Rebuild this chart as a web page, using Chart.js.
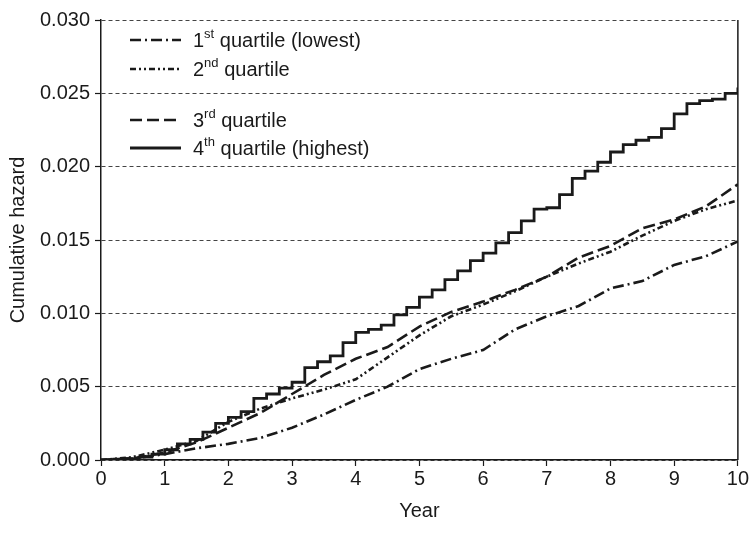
<!DOCTYPE html>
<html>
<head>
<meta charset="utf-8">
<script src="https://cdn.jsdelivr.net/npm/chart.js@4/dist/chart.umd.min.js"></script>
<style>
  html, body { margin: 0; padding: 0; background: #fff; }
  #wrap { width: 750px; height: 547px; position: relative; }
</style>
</head>
<body>
<div id="wrap"><canvas id="hazardChart"></canvas></div>
<script>
// ── DATA ─────────────────────────────
const halfYears = [0, 0.5, 1, 1.5, 2, 2.5, 3, 3.5, 4, 4.5, 5, 5.5, 6, 6.5, 7, 7.5, 8, 8.5, 9, 9.5, 10];
const q1Values = [0, 0.0001, 0.0004, 0.0008, 0.0011, 0.0015, 0.0022, 0.0031, 0.0041, 0.0050, 0.0062,
  0.0069, 0.0075, 0.0089, 0.0098, 0.0105, 0.0117, 0.0122, 0.0133, 0.0139, 0.0149];
const q2Values = [0, 0.0002, 0.0007, 0.0013, 0.0026, 0.0035, 0.0042, 0.0048, 0.0055, 0.0070, 0.0085,
  0.0098, 0.0106, 0.0115, 0.0125, 0.0134, 0.0142, 0.0153, 0.0163, 0.0171, 0.0177];
const q3Values = [0, 0.0001, 0.0005, 0.0012, 0.0022, 0.0032, 0.0045, 0.0058, 0.0069, 0.0077, 0.0091,
  0.0101, 0.0108, 0.0116, 0.0125, 0.0138, 0.0146, 0.0158, 0.0164, 0.0173, 0.0188];

// 4th quartile is a step function, read every 0.2 years
const stepYears = [0, 0.2, 0.4, 0.6, 0.8, 1.0, 1.2, 1.4, 1.6, 1.8, 2.0, 2.2, 2.4, 2.6, 2.8, 3.0, 3.2, 3.4, 3.6, 3.8,
  4.0, 4.2, 4.4, 4.6, 4.8, 5.0, 5.2, 5.4, 5.6, 5.8, 6.0, 6.2, 6.4, 6.6, 6.8, 7.0, 7.2, 7.4, 7.6, 7.8,
  8.0, 8.2, 8.4, 8.6, 8.8, 9.0, 9.2, 9.4, 9.6, 9.8, 10.0];
const q4Values = [0, 0.00005, 0.0001, 0.0002, 0.0004, 0.0007, 0.0011, 0.0014, 0.0019, 0.0025,
  0.0029, 0.0033, 0.0042, 0.0045, 0.0049, 0.0053, 0.0063, 0.0067, 0.0071, 0.0080,
  0.0087, 0.0089, 0.0092, 0.0099, 0.0104, 0.0111, 0.0116, 0.0123, 0.0129, 0.0136,
  0.0141, 0.0148, 0.0155, 0.0163, 0.0171, 0.0172, 0.0181, 0.0192, 0.0197, 0.0203,
  0.0210, 0.0215, 0.0218, 0.0220, 0.0226, 0.0236, 0.0243, 0.0245, 0.0246, 0.0250, 0.0254];

const legendNum = ["1", "2", "3", "4"];
const legendSup = ["st", "nd", "rd", "th"];
const legendRest = [" quartile (lowest)", " quartile", " quartile", " quartile (highest)"];

const yTicks = [0, 0.005, 0.010, 0.015, 0.020, 0.025, 0.030];
const xTicks = [0, 1, 2, 3, 4, 5, 6, 7, 8, 9, 10];

// ── HELPERS ─────────────────────────────
const FONT = "'Liberation Sans', Arial, Helvetica, sans-serif";
const INK = "#1a1a1a";

function toPoints(xs, ys) {
  return xs.map((x, i) => ({ x: x, y: ys[i] }));
}

// custom legend with superscripts + right frame line
const extrasPlugin = {
  id: "extras",
  afterDraw(chart) {
    const ctx = chart.ctx;
    const area = chart.chartArea;
    ctx.save();
    ctx.strokeStyle = INK;
    ctx.lineWidth = 1.5;
    ctx.beginPath();
    ctx.moveTo(area.right, area.top);
    ctx.lineTo(area.right, area.bottom);
    ctx.stroke();

    const rowsY = [40, 69, 120, 148];
    chart.data.datasets.forEach((ds, i) => {
      const y = rowsY[i];
      ctx.strokeStyle = INK;
      ctx.lineWidth = ds.borderWidth;
      ctx.setLineDash(ds.borderDash || []);
      ctx.beginPath();
      ctx.moveTo(130, y);
      ctx.lineTo(181, y);
      ctx.stroke();
      ctx.setLineDash([]);

      ctx.fillStyle = INK;
      ctx.textBaseline = "middle";
      ctx.textAlign = "left";
      let x = 193;
      ctx.font = "20px " + FONT;
      ctx.fillText(legendNum[i], x, y + 1);
      x += ctx.measureText(legendNum[i]).width;
      ctx.font = "13px " + FONT;
      ctx.fillText(legendSup[i], x, y - 6);
      x += ctx.measureText(legendSup[i]).width;
      ctx.font = "20px " + FONT;
      ctx.fillText(legendRest[i], x, y + 1);
    });
    ctx.restore();
  }
};

// ── CHART ─────────────────────────────
const lineBase = { pointRadius: 0, fill: false, tension: 0, borderColor: INK, borderCapStyle: "butt" };

new Chart(document.getElementById("hazardChart").getContext("2d"), {
  type: "line",
  data: {
    datasets: [
      Object.assign({ label: "1st quartile (lowest)", data: toPoints(halfYears, q1Values),
        borderWidth: 2.6, borderDash: [11, 4, 2, 4] }, lineBase),
      Object.assign({ label: "2nd quartile", data: toPoints(halfYears, q2Values),
        borderWidth: 2.6, borderDash: [6, 3, 2, 3, 2, 3] }, lineBase),
      Object.assign({ label: "3rd quartile", data: toPoints(halfYears, q3Values),
        borderWidth: 2.6, borderDash: [12, 5] }, lineBase),
      Object.assign({ label: "4th quartile (highest)", data: toPoints(stepYears, q4Values),
        borderWidth: 2.8, stepped: "before" }, lineBase)
    ]
  },
  options: {
    responsive: true,
    maintainAspectRatio: false,
    animation: false,
    layout: { padding: { top: 20, right: 12, left: 0, bottom: 0 } },
    plugins: { legend: { display: false }, tooltip: { enabled: false } },
    scales: {
      x: {
        type: "linear",
        min: 0,
        max: 10,
        afterBuildTicks: s => { s.ticks = xTicks.map(v => ({ value: v })); },
        afterFit: s => { s.height = 87; },
        grid: { drawOnChartArea: false, drawTicks: true, tickLength: 6, tickColor: INK, tickWidth: 1.2 },
        border: { color: INK, width: 1.5 },
        ticks: { color: INK, font: { family: FONT, size: 20 }, padding: 1, maxRotation: 0 },
        title: { display: true, text: "Year", color: INK, font: { family: FONT, size: 20 }, padding: { top: 4, bottom: 24 } }
      },
      y: {
        min: 0,
        max: 0.03,
        afterBuildTicks: s => { s.ticks = yTicks.map(v => ({ value: v })); },
        afterFit: s => { s.width = 101; },
        grid: { color: "#444", lineWidth: 1, tickLength: 6, tickColor: INK, tickWidth: 1.2 },
        border: { color: INK, width: 1.5, dash: [4, 3] },
        ticks: { color: INK, font: { family: FONT, size: 20 }, padding: 5, callback: v => v.toFixed(3) },
        title: { display: true, text: "Cumulative hazard", color: INK, font: { family: FONT, size: 20 }, padding: { top: 6, bottom: 4 } }
      }
    }
  },
  plugins: [extrasPlugin]
});
</script>
</body>
</html>
